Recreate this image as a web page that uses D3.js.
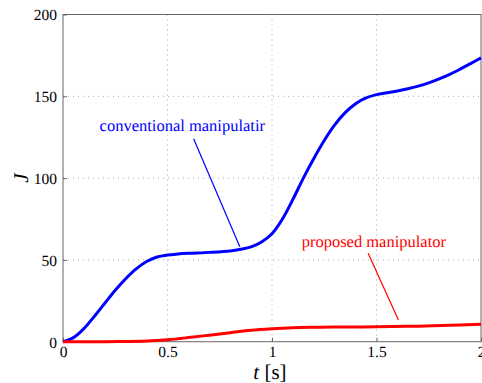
<!DOCTYPE html>
<html><head><meta charset="utf-8">
<script src="https://cdn.jsdelivr.net/npm/d3@7"></script>
<style>body{margin:0;background:#fff;} svg{display:block;} text{text-rendering:geometricPrecision;}</style>
</head><body>
<svg id="c" width="482" height="383"></svg>
<script>
const blueT = [0,0.05,0.1,0.15,0.2,0.25,0.3,0.35,0.4,0.45,0.5,0.55,0.6,0.7,0.8,0.85,0.9,0.95,1.0,1.05,1.1,1.15,1.2,1.25,1.3,1.35,1.4,1.45,1.5,1.55,1.6,1.65,1.7,1.75,1.8,1.85,1.9,1.95,2.0];
const blueJ = [0,2.5,8,15.5,23.5,31.5,38.5,44.5,49,51.8,53,53.6,54,54.6,55.5,56.5,58,61,66,75,87,100,112,123,132.5,140,145.5,149,151,152.2,153.3,154.6,156.2,158.2,160.6,163.4,166.6,170,173.5];
const redT = [0,0.2,0.3,0.4,0.5,0.6,0.7,0.8,0.9,1.0,1.1,1.2,1.3,1.5,1.7,1.9,2.0];
const redJ = [0,0,0.1,0.4,1.2,2.5,4,5.5,7,7.9,8.5,8.8,9,9.1,9.5,10.2,10.6];
const xTicks = [0,0.5,1,1.5,2];
const yTicks = [0,50,100,150,200];
const labels = {blue:"conventional manipulatir", red:"proposed manipulator"};

const svg = d3.select("#c");
const L=63, T=14.5, W=418, H=327.2;
const x = d3.scaleLinear().domain([0,2]).range([L,L+W]);
const y = d3.scaleLinear().domain([0,200]).range([T+H,T]);
const font = '"Liberation Serif"';

// grid
svg.append("g").selectAll("line").data(xTicks.slice(1,-1)).join("line")
  .attr("x1",d=>x(d)).attr("x2",d=>x(d)).attr("y1",T).attr("y2",T+H)
  .attr("stroke","#aaa").attr("stroke-width",1).attr("stroke-dasharray","1,4");
svg.append("g").selectAll("line").data(yTicks.slice(1,-1)).join("line")
  .attr("y1",d=>y(d)).attr("y2",d=>y(d)).attr("x1",L).attr("x2",L+W)
  .attr("stroke","#aaa").attr("stroke-width",1).attr("stroke-dasharray","1,4");

// axes
const xa = svg.append("g").attr("transform",`translate(0,${T+H})`)
  .call(d3.axisBottom(x).tickValues(xTicks).tickSize(-4).tickPadding(4).tickFormat(d3.format("")));
const ya = svg.append("g").attr("transform",`translate(${L},0)`)
  .call(d3.axisLeft(y).tickValues(yTicks).tickSize(-4).tickPadding(6));
[xa,ya].forEach(a=>{
  a.attr("font-family",null).attr("font-size",null);
  a.select(".domain").remove();
  a.selectAll("line").attr("stroke","#666");
  a.selectAll("text").style("font-family",font).style("font-size","15.5px").attr("fill","#000");
});
ya.selectAll("text").attr("dy","0.35em");
xa.selectAll("text").attr("dy","0.71em");

// box
svg.append("rect").attr("x",L).attr("y",T).attr("width",W).attr("height",H)
  .attr("fill","none").attr("stroke","#666").attr("stroke-width",1);

// lines
const line = d3.line().x(d=>x(d[0])).y(d=>y(d[1])).curve(d3.curveCatmullRom.alpha(0.5));
svg.append("path").datum(blueT.map((t,i)=>[t,blueJ[i]])).attr("d",line)
  .attr("fill","none").attr("stroke","#0000ff").attr("stroke-width",3);
svg.append("path").datum(redT.map((t,i)=>[t,redJ[i]])).attr("d",line)
  .attr("fill","none").attr("stroke","#ff0000").attr("stroke-width",3);

// annotations
svg.append("text").attr("x",x(0.175)).attr("y",y(128.5)).text(labels.blue)
  .style("font-family",font).style("font-size","16.5px").attr("fill","#0000ff");
svg.append("line").attr("x1",x(0.625)).attr("y1",y(124)).attr("x2",x(0.846)).attr("y2",y(58))
  .attr("stroke","#0000ff").attr("stroke-width",1.2);
svg.append("text").attr("x",x(1.142)).attr("y",y(58)).text(labels.red)
  .style("font-family",font).style("font-size","16.5px").attr("fill","#ff0000");
svg.append("line").attr("x1",x(1.46)).attr("y1",y(54)).attr("x2",x(1.605)).attr("y2",y(13.2))
  .attr("stroke","#ff0000").attr("stroke-width",1.2);

// axis labels
svg.append("text").attr("x",270).attr("y",379).attr("text-anchor","middle")
  .style("font-family",font).style("font-size","21px")
  .html("<tspan font-style='italic'>t</tspan> [s]");
svg.append("text").attr("transform",`translate(28,${y(100)}) rotate(-90)`).attr("text-anchor","middle")
  .style("font-family",font).style("font-size","21px").attr("font-style","italic").text("J");
</script>
</body></html>
